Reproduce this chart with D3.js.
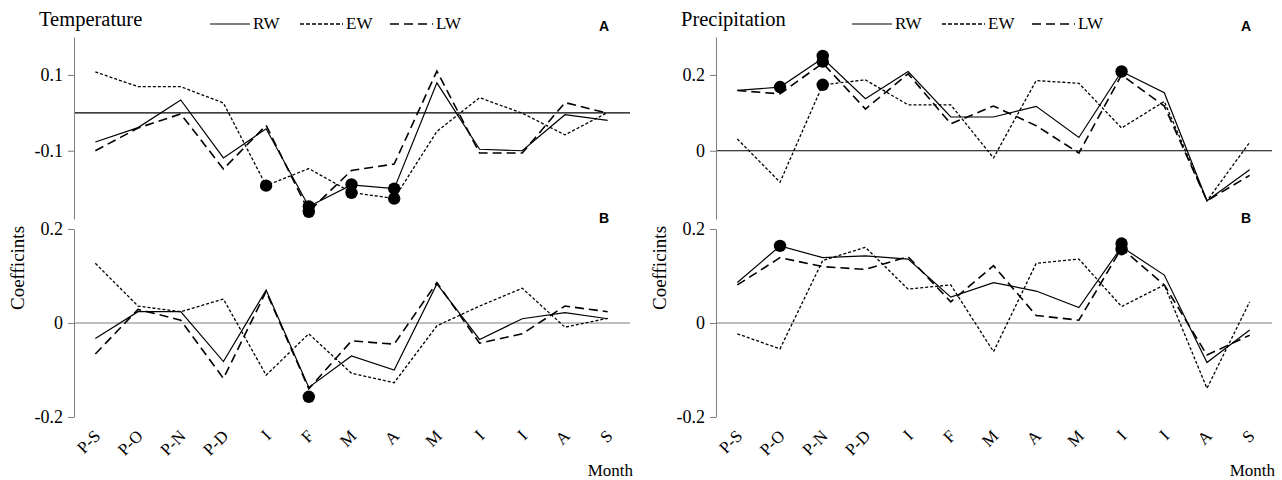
<!DOCTYPE html>
<html>
<head>
<meta charset="utf-8">
<script src="https://cdn.jsdelivr.net/npm/d3@7"></script>
<style>
  body { margin: 0; background: #fff; }
  svg text { font-family: "Liberation Serif", "Times New Roman", serif; fill: #000; }
  .panel-tag { font-family: "Liberation Sans", Arial, sans-serif; font-weight: bold; font-size: 14px; }
  .axis path, .axis line { stroke: #7f7f7f; }
  .axis text { font-size: 18px; }
</style>
</head>
<body>
<div id="chart"></div>
<script>
// months (x categories)
let months = ["P-S", "P-O", "P-N", "P-D", "I", "F", "M", "A", "M", "I", "I", "A", "S"];

// temperature, panel A
let tempA_RW = [-0.077, -0.039, 0.034, -0.119, -0.042, -0.247, -0.190, -0.200, 0.079, -0.096, -0.100, -0.005, -0.020];
let tempA_EW = [0.108, 0.069, 0.069, 0.026, -0.192, -0.147, -0.210, -0.226, -0.049, 0.040, -0.001, -0.058, 0.001];
let tempA_LW = [-0.100, -0.040, -0.003, -0.148, -0.033, -0.260, -0.152, -0.135, 0.110, -0.106, -0.106, 0.027, -0.001];
// temperature, panel B
let tempB_RW = [-0.033, 0.024, 0.024, -0.082, 0.070, -0.137, -0.070, -0.100, 0.083, -0.035, 0.009, 0.022, 0.009];
let tempB_EW = [0.127, 0.036, 0.024, 0.051, -0.111, -0.023, -0.107, -0.127, -0.006, 0.036, 0.074, -0.009, 0.010];
let tempB_LW = [-0.066, 0.029, 0.006, -0.118, 0.067, -0.140, -0.038, -0.045, 0.086, -0.043, -0.023, 0.036, 0.024];
// precipitation, panel A
let precA_RW = [0.159, 0.168, 0.244, 0.137, 0.209, 0.089, 0.089, 0.117, 0.035, 0.209, 0.153, -0.132, -0.050];
let precA_EW = [0.031, -0.083, 0.174, 0.187, 0.121, 0.121, -0.019, 0.185, 0.178, 0.060, 0.130, -0.132, 0.022];
let precA_LW = [0.159, 0.150, 0.231, 0.110, 0.203, 0.071, 0.118, 0.066, -0.006, 0.200, 0.118, -0.132, -0.065];
// precipitation, panel B
let precB_RW = [0.086, 0.164, 0.139, 0.143, 0.136, 0.055, 0.086, 0.068, 0.033, 0.162, 0.102, -0.084, -0.015];
let precB_EW = [-0.023, -0.055, 0.133, 0.161, 0.072, 0.081, -0.061, 0.127, 0.136, 0.035, 0.081, -0.139, 0.045];
let precB_LW = [0.081, 0.139, 0.120, 0.114, 0.141, 0.045, 0.122, 0.016, 0.006, 0.159, 0.081, -0.068, -0.026];

// significant coefficients: [month index, value]
let tempA_sig = [[4, -0.192], [5, -0.247], [5, -0.261], [6, -0.189], [6, -0.211], [7, -0.200], [7, -0.226]];
let tempB_sig = [[5, -0.157]];
let precA_sig = [[1, 0.168], [2, 0.250], [2, 0.235], [2, 0.174], [9, 0.209]];
let precB_sig = [[1, 0.164], [9, 0.169], [9, 0.157]];

let tickA_temp = [-0.1, 0.1];
let tickA_prec = [0, 0.2];
let tickB = [-0.2, 0, 0.2];

let width = 1282;
let height = 480;

let svg = d3.select("#chart").append("svg")
  .attr("width", width)
  .attr("height", height);

// line styles for the three series
let styles = {
  RW: { dash: null, w: 1.2 },
  EW: { dash: "3,2", w: 1.3 },
  LW: { dash: "9,5", w: 1.6 }
};

function drawPanel(opts) {
  let x = d3.scalePoint().domain(d3.range(months.length))
    .range([opts.left, opts.left + 555]).padding(0.5);
  let y = d3.scaleLinear().domain(opts.domain).range([opts.bottom, opts.top]);

  let g = svg.append("g");

  // zero line
  g.append("line")
    .attr("x1", opts.left).attr("x2", opts.left + 556)
    .attr("y1", y(0)).attr("y2", y(0))
    .style("stroke", opts.zeroColor).style("stroke-width", 1.2);

  // plain hyphen for negatives, like the original
  let axis = g.append("g")
    .attr("class", "axis")
    .attr("transform", "translate(" + opts.left + ",0)")
    .call(d3.axisLeft(y).tickValues(opts.ticks).tickSize(6).tickSizeOuter(0)
      .tickFormat(function(d) { return String(d); }));
  axis.selectAll("text").attr("x", -11);

  let line = d3.line()
    .x(function(d, i) { return x(i); })
    .y(function(d) { return y(d); });

  ["RW", "EW", "LW"].forEach(function(k) {
    g.append("path")
      .datum(opts.series[k])
      .attr("d", line)
      .style("fill", "none")
      .style("stroke", "#000")
      .style("stroke-width", styles[k].w)
      .style("stroke-dasharray", styles[k].dash);
  });

  g.selectAll(".sig")
    .data(opts.sig)
    .enter().append("circle")
    .attr("class", "sig")
    .attr("cx", function(d) { return x(d[0]); })
    .attr("cy", function(d) { return y(d[1]); })
    .attr("r", 6.2)
    .style("fill", "#000");

  g.append("text")
    .attr("class", "panel-tag")
    .attr("x", opts.left + 525)
    .attr("y", opts.top - 6)
    .text(opts.tag);

  if (opts.months) {
    g.selectAll(".mlab")
      .data(months)
      .enter().append("text")
      .attr("class", "mlab")
      .attr("text-anchor", "end")
      .style("font-size", "17px")
      .attr("transform", function(d, i) {
        return "translate(" + (x(i) + 6) + "," + (opts.bottom + 20) + ") rotate(-45)";
      })
      .text(function(d) { return d; });
  }
  return x;
}

function drawSide(left, title, A, B, tickA, domA, sigA, sigB) {
  drawPanel({ left: left, top: 37, bottom: 219, domain: domA, ticks: tickA,
    series: A, sig: sigA, tag: "A", zeroColor: "#000" });
  drawPanel({ left: left, top: 229, bottom: 417, domain: [-0.2, 0.2], ticks: tickB,
    series: B, sig: sigB, tag: "B", zeroColor: "#7f7f7f", months: true });

  svg.append("text")
    .attr("x", left - 35).attr("y", 26)
    .style("font-size", "20.5px")
    .text(title);

  svg.append("text")
    .attr("transform", "translate(" + (left - 50) + ",268) rotate(-90)")
    .attr("text-anchor", "middle")
    .style("font-size", "19px")
    .text("Coefficints");

  svg.append("text")
    .attr("x", left + 559).attr("y", 476)
    .attr("text-anchor", "end")
    .style("font-size", "17px")
    .text("Month");

  // legend
  let lx = left + 136;
  let legend = svg.append("g").attr("transform", "translate(" + lx + ",24)");
  let items = [["RW", 0, 40], ["EW", 90, 43], ["LW", 180, 43]];
  items.forEach(function(it) {
    legend.append("line")
      .attr("x1", it[1]).attr("x2", it[1] + it[2])
      .attr("y1", 0).attr("y2", 0)
      .style("stroke", "#000")
      .style("stroke-width", it[0] === "RW" ? 1.2 : 1.5)
      .style("stroke-dasharray", it[0] === "EW" ? "4,2" : (it[0] === "LW" ? "9,5" : null));
    legend.append("text")
      .attr("x", it[1] + it[2] + 3).attr("y", 5)
      .style("font-size", "17px")
      .text(it[0]);
  });
}

drawSide(74, "Temperature",
  { RW: tempA_RW, EW: tempA_EW, LW: tempA_LW },
  { RW: tempB_RW, EW: tempB_EW, LW: tempB_LW },
  tickA_temp, [-0.28, 0.2], tempA_sig, tempB_sig);

drawSide(716, "Precipitation",
  { RW: precA_RW, EW: precA_EW, LW: precA_LW },
  { RW: precB_RW, EW: precB_EW, LW: precB_LW },
  tickA_prec, [-0.18, 0.3], precA_sig, precB_sig);
</script>
</body>
</html>
